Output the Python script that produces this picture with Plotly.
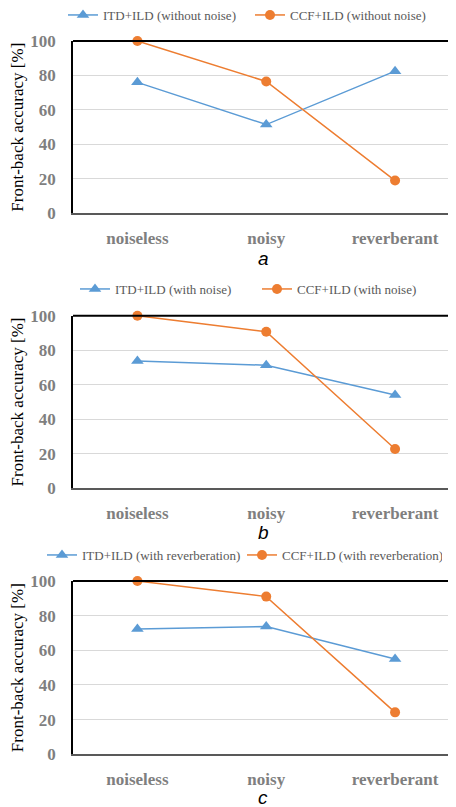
import plotly.graph_objects as go

categories = ["noiseless", "noisy", "reverberant"]

itd_a = [76, 51.5, 82.5]
ccf_a = [100, 76.5, 19]
itd_b = [73.8, 71.3, 54]
ccf_b = [100, 90.7, 22.8]
itd_c = [72.3, 73.7, 55]
ccf_c = [100, 91, 24.2]

names_itd = ["ITD+ILD (without noise)", "ITD+ILD (with noise)", "ITD+ILD (with reverberation)"]
names_ccf = ["CCF+ILD (without noise)", "CCF+ILD (with noise)", "CCF+ILD (with reverberation)"]
captions = ["a", "b", "c"]
y_ticks = [0, 20, 40, 60, 80, 100]

# page body has an 8px margin, so the figure is 8px smaller and coordinates shifted
OFF = 8
W, H = 456 - OFF, 807 - OFF
BLUE = "#5B9BD5"
ORANGE = "#ED7D31"
SERIF = "Liberation Serif"
SANS = "Liberation Sans"

# panel pixel geometry in page coords (top, bottom of plot area)
panels = [(41, 213.3), (315.7, 488.3), (581, 754.3)]
legend_y = [15, 289, 555]
legend_x = [101 - 38, 113 - 38, 80 - 38]
legend_entry = [142, 137, 155]
caption_y = [258, 532, 797]
plot_left = 73

fig = go.Figure()
itd_all = [itd_a, itd_b, itd_c]
ccf_all = [ccf_a, ccf_b, ccf_c]

layout = dict(
    template="none",
    width=W, height=H,
    margin=dict(l=0, r=0, t=0, b=0, autoexpand=False),
    paper_bgcolor="white", plot_bgcolor="white",
    showlegend=True,
)

annotations = []
shapes = []
for i in range(3):
    ax = "" if i == 0 else str(i + 1)
    lg = "legend" if i == 0 else f"legend{i + 1}"
    fig.add_trace(go.Scatter(
        x=categories, y=itd_all[i], name=names_itd[i], mode="lines+markers",
        line=dict(color=BLUE, width=1.5),
        marker=dict(symbol="triangle-up", size=11, color=BLUE),
        xaxis="x" + ax, yaxis="y" + ax, legend=lg, cliponaxis=False,
    ))
    fig.add_trace(go.Scatter(
        x=categories, y=ccf_all[i], name=names_ccf[i], mode="lines+markers",
        line=dict(color=ORANGE, width=1.5),
        marker=dict(symbol="circle", size=10, color=ORANGE),
        xaxis="x" + ax, yaxis="y" + ax, legend=lg, cliponaxis=False,
    ))
    top, bot = panels[i]
    top -= OFF
    bot -= OFF
    layout["xaxis" + ax] = dict(
        domain=[(plot_left - OFF) / W, 1],
        range=[-0.5, 2.473],
        type="category",
        automargin=False,
        showline=True, linecolor="#595959", linewidth=2,
        showgrid=False, zeroline=False,
        tickfont=dict(family=SERIF, size=17, color="#7F7F7F", weight="bold"),
        ticks="", ticklabelstandoff=8,
        anchor="y" + ax,
        fixedrange=True,
    )
    layout["yaxis" + ax] = dict(
        domain=[1 - bot / H, 1 - top / H],
        range=[0, 100],
        tickvals=y_ticks,
        automargin=False,
        showline=True, linecolor="black", linewidth=1.5,
        showgrid=True, gridcolor="#D9D9D9", gridwidth=1,
        zeroline=False,
        tickfont=dict(family=SERIF, size=17, color="#7F7F7F", weight="bold"),
        ticks="", ticklabelstandoff=12,
        title=dict(text="Front-back accuracy [%]", font=dict(family=SERIF, size=17, color="black"), standoff=2),
        anchor="x" + ax,
        fixedrange=True,
    )
    layout[lg] = dict(
        orientation="h",
        x=(legend_x[i] - OFF) / W, xanchor="left",
        y=1 - (legend_y[i] - OFF) / H, yanchor="middle",
        font=dict(family=SERIF, size=13, color="#595959"),
        bgcolor="rgba(0,0,0,0)",
        itemwidth=30,
        entrywidth=legend_entry[i],
    )
    shapes.append(dict(
        type="line", xref=f"x{ax} domain", yref=f"y{ax} domain",
        x0=0, x1=1, y0=1, y1=1, line=dict(color="black", width=2),
    ))
    annotations.append(dict(
        text=captions[i], xref="paper", yref="paper",
        x=(263 - OFF) / W, y=1 - (caption_y[i] - OFF) / H, xanchor="center", yanchor="middle",
        showarrow=False, font=dict(family=SANS, size=19, color="black", style="italic"),
    ))

layout["annotations"] = annotations
layout["shapes"] = shapes
fig.update_layout(**layout)
fig.write_html("out.html")
